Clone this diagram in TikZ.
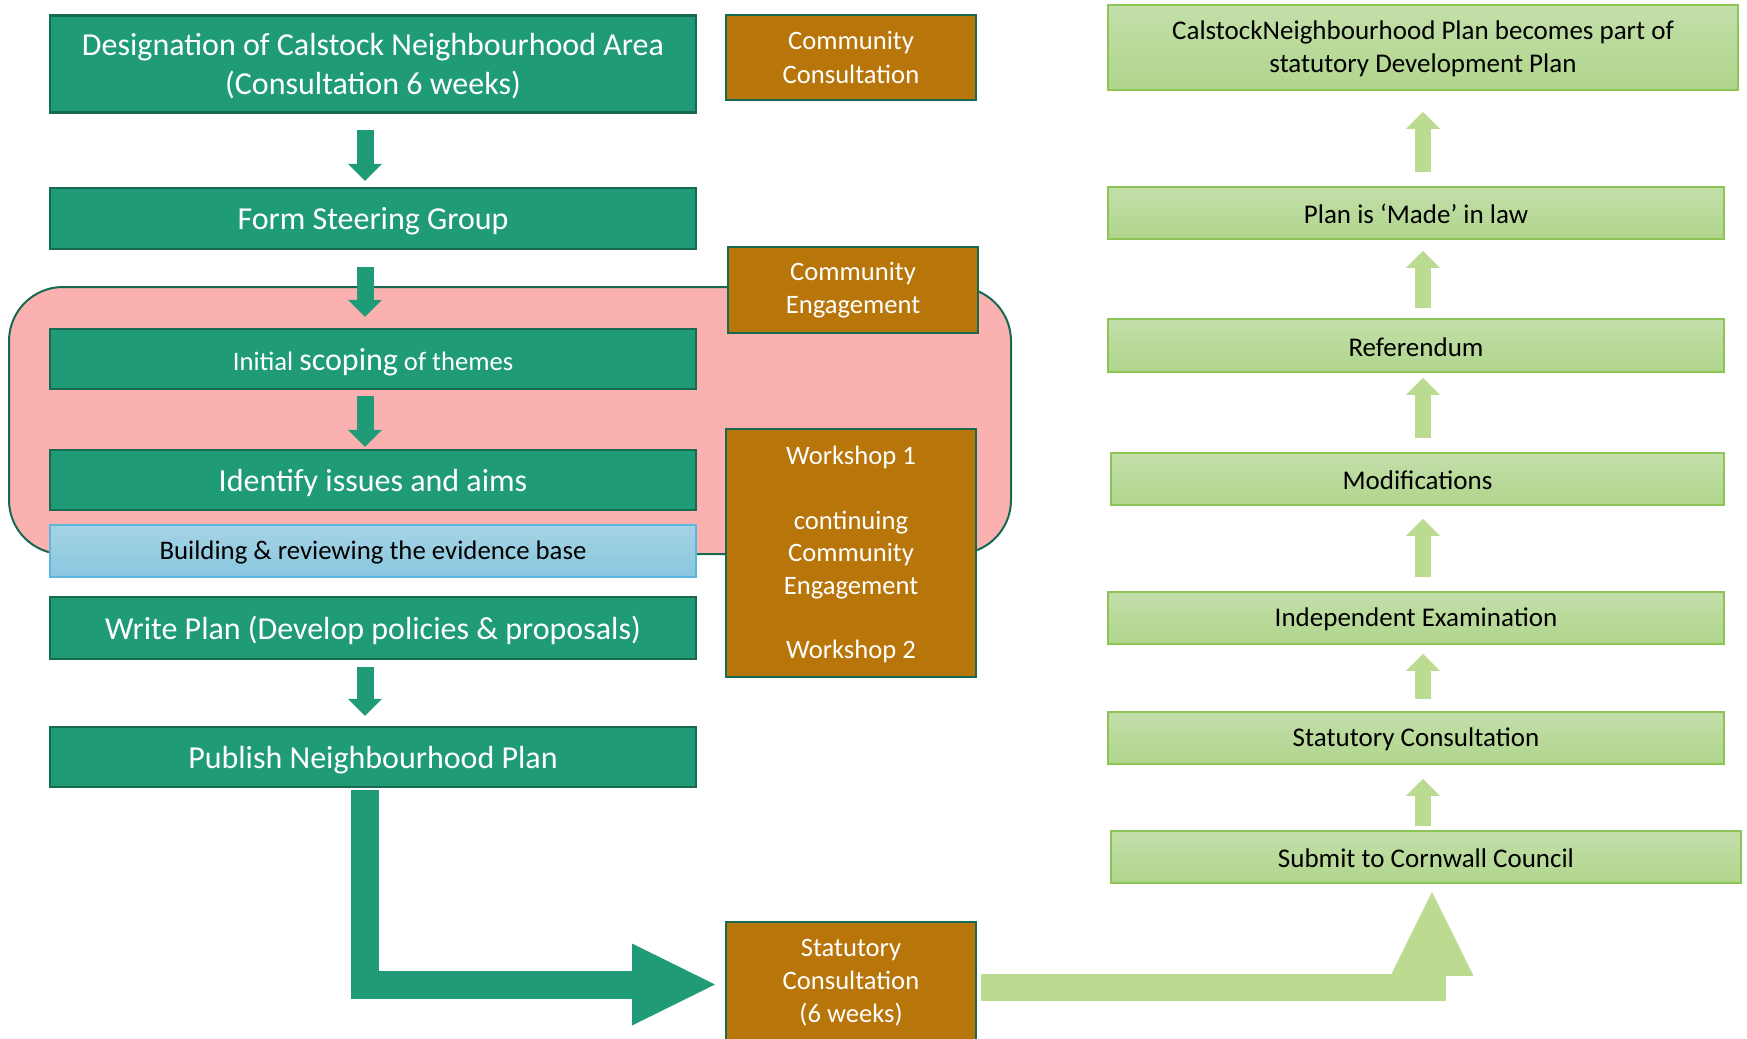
\documentclass[tikz,border=0pt]{standalone}
\usepackage{fontspec}
\setmainfont{Carlito}
\usetikzlibrary{arrows.meta}
\definecolor{nhgreen}{HTML}{1F9B77}
\definecolor{nhdark}{HTML}{17694F}
\definecolor{nhorange}{HTML}{B8750A}
\definecolor{nhpink}{HTML}{FCB1B1}
\definecolor{nhblue}{HTML}{A6D3E4}
\definecolor{nhblueb}{HTML}{88C7DF}
\definecolor{nhblueline}{HTML}{5BB8DC}
\definecolor{stattop}{HTML}{C3DFAA}
\definecolor{statbot}{HTML}{B0D58C}
\definecolor{statline}{HTML}{8CC456}
\definecolor{statarrow}{HTML}{BBDB91}

\begin{document}
\begin{tikzpicture}[
    x=0.5pt, y=-0.5pt,
    stepbox/.style={draw=nhdark, fill=nhgreen, line width=1.2pt, text=white, inner sep=0pt, text height=14pt,
                    minimum width=323pt, align=center, font=\fontsize{16}{19.5}\selectfont},
    sidebox/.style={draw=nhdark, fill=nhorange, line width=1pt, text=white, inner sep=0pt,
                    minimum width=125pt, align=center, font=\fontsize{13.3}{16.7}\selectfont},
    statbox/.style={draw=statline, top color=stattop, bottom color=statbot, line width=0.8pt, text height=10.6pt,
                    text=black, inner sep=0pt, align=center, font=\fontsize{13.5}{16.5}\selectfont},
    downarr/.style={nhgreen, line width=8.5pt, -{Triangle[width=17pt, length=8.5pt, line width=0pt]}},
    uparr/.style={statarrow, line width=8pt, -{Triangle[width=17pt, length=8.5pt, line width=0pt]}},
]
\useasboundingbox (0,0) rectangle (1747,1039);

% Engagement phase frame (behind everything)
\node[draw=nhdark, fill=nhpink, line width=1pt, rounded corners=27pt,
      minimum width=501pt, minimum height=133.5pt] (frame) at (510, 420.5) {};

% === Plan preparation (left column) ===
\node[stepbox, text height=, text depth=0pt, minimum height=48.5pt] (desig) at (373, 64)
      {Designation of Calstock Neighbourhood Area\\(Consultation 6 weeks)};
\node[stepbox, minimum height=30.5pt] (steer) at (373, 218.5) {Form Steering Group};
\node[stepbox, minimum height=30pt] (scope) at (373, 359)
      {\fontsize{13.3}{16}\selectfont Initial {\fontsize{16}{19}\selectfont scoping} of themes};
\node[stepbox, minimum height=30pt] (ident) at (373, 480) {Identify issues and aims};
\node[draw=nhblueline, top color=nhblue, bottom color=nhblueb, line width=0.8pt, inner sep=0pt,
      text height=11pt, minimum width=323pt, minimum height=26pt, font=\fontsize{13.4}{16}\selectfont] (evid)
      at (373, 551) {Building \& reviewing the evidence base};
\node[stepbox, minimum height=31pt] (write) at (373, 628) {Write Plan (Develop policies \& proposals)};
\node[stepbox, minimum height=30pt] (publ) at (373, 757) {Publish Neighbourhood Plan};

% === Community involvement ===
\node[sidebox, minimum height=42.5pt] (ccons) at (851, 57.5) {Community\\Consultation};
\node[sidebox, minimum height=43pt] (ceng) at (853, 290) {Community\\Engagement};
\node[sidebox, text depth=0.5pt, minimum height=124pt, font=\fontsize{13.3}{16.2}\selectfont] (works) at (851, 553)
      {Workshop 1\\[16.2pt]continuing\\Community\\Engagement\\[16.2pt]Workshop 2};
\node[sidebox, text depth=1.3pt, minimum height=60pt, font=\fontsize{13.3}{16.5}\selectfont] (statc) at (851, 982)
      {Statutory\\Consultation\\(6 weeks)};

% === Examination and adoption (right column) ===
\node[statbox, text height=, text depth=1.1pt, minimum width=315pt, minimum height=42.5pt] (adopt) at (1423, 47.5)
      {CalstockNeighbourhood Plan becomes part of\\statutory Development Plan};
\node[statbox, minimum width=308pt, minimum height=26pt] (made) at (1416, 213) {Plan is ‘Made’ in law};
\node[statbox, minimum width=308pt, minimum height=26.5pt] (refer) at (1416, 345.5) {Referendum};
\node[statbox, minimum width=306.5pt, minimum height=26pt] (modif) at (1417.5, 479) {Modifications};
\node[statbox, minimum width=308pt, minimum height=26pt] (indep) at (1416, 618) {Independent Examination};
\node[statbox, minimum width=308pt, minimum height=26pt] (statcons) at (1416, 738) {Statutory Consultation};
\node[statbox, minimum width=315pt, minimum height=26pt] (submit) at (1426, 857) {Submit to Cornwall Council};

% arrow axes
\coordinate (lx) at (365, 0);
\coordinate (rx) at (1423, 0);
\coordinate (hx) at (1432, 0);

% downward steps
\foreach \a/\b/\s/\e in {desig/steer/8/3, steer/scope/8.5/5.5, scope/ident/3/1, write/publ/3.5/5}
    \draw[downarr, shorten <=\s pt, shorten >=\e pt] (\a.south -| lx) -- (\b.north -| lx);

% upward steps
\foreach \a/\b/\s/\e in {submit/statcons/2/7, statcons/indep/6/4.5, indep/modif/7/6.5,
                         modif/refer/7/2.5, refer/made/5/5.5, made/adopt/7/10.5}
    \draw[uparr, shorten <=\s pt, shorten >=\e pt] (\a.north -| rx) -- (\b.south -| rx);

% publish -> statutory consultation
\draw[nhgreen, line width=14pt, shorten <=1pt, shorten >=5pt,
      -{Triangle[width=41pt, length=41.5pt, line width=0pt]}]
      (publ.south -| lx) |- ([yshift=-1.25pt]statc.west);

% statutory consultation -> submission
\draw[statarrow, line width=13.5pt, shorten <=2pt, shorten >=4pt,
      -{Triangle[width=41.5pt, length=42pt, line width=0pt]}]
      ([yshift=-2.75pt]statc.east) -| (submit.south -| hx);

\end{tikzpicture}
\end{document}
